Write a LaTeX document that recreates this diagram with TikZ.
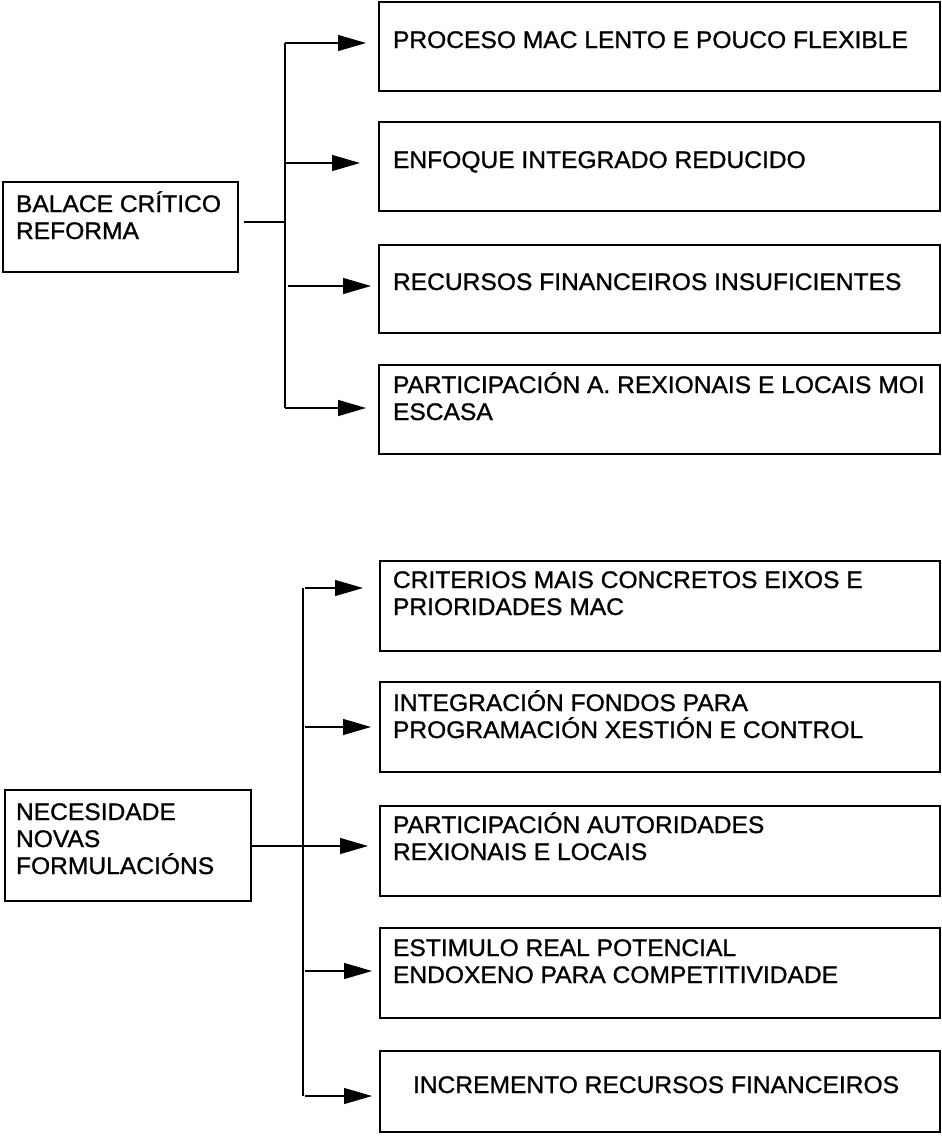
\documentclass[tikz,border=0pt]{standalone}
\usepackage{fontspec}
\setmainfont[FakeStretch=1.025,FakeBold=1]{Liberation Sans}
\usetikzlibrary{arrows.meta}
\newcommand\lstrut{\rule{0pt}{22pt}}
\begin{document}
\begin{tikzpicture}[x=1pt,y=-1pt,
  boxframe/.style={draw, line width=1.5pt, inner sep=0pt, outer sep=0pt, anchor=north west},
  lbl/.style={anchor=north west, inner sep=0pt, outer sep=0pt, align=left, font=\fontsize{24}{27}\selectfont},
  conn/.style={line width=1.2pt},
  arr/.style={conn, -{Triangle[length=28pt,width=16pt]}}]
\useasboundingbox[fill=white] (0,0) rectangle (942,1141);

% ---------- upper group ----------
\node[boxframe, minimum width=235pt, minimum height=90pt] (b0) at (3,182) {};
\node[lbl] (b0t) at (16,190) {\lstrut BALACE CRÍTICO\\REFORMA};

\node[boxframe, minimum width=561pt, minimum height=89pt] (t1) at (379,2) {};
\node[lbl] (t1t) at (393,26) {\lstrut PROCESO MAC LENTO E POUCO FLEXIBLE};
\node[boxframe, minimum width=561pt, minimum height=89pt] (t2) at (379,122) {};
\node[lbl] (t2t) at (393,146) {\lstrut ENFOQUE INTEGRADO REDUCIDO};
\node[boxframe, minimum width=561pt, minimum height=88pt] (t3) at (379,245) {};
\node[lbl] (t3t) at (393,268) {\lstrut RECURSOS FINANCEIROS INSUFICIENTES};
\node[boxframe, minimum width=561pt, minimum height=89pt] (t4) at (379,365) {};
\node[lbl] (t4t) at (393,371) {\lstrut PARTICIPACIÓN A. REXIONAIS E LOCAIS MOI\\ESCASA};

\coordinate (j0) at (285,222);
\coordinate (j1) at (285,43);
\coordinate (j2) at (285,163);
\coordinate (j3) at (285,286);
\coordinate (j4) at (285,408);

\draw[conn, shorten <=6pt] (b0.east |- j0) -- (j0);
\draw[conn] (j1) -- (j4);
\draw[arr, shorten >=13pt] (j1) -- (j1 -| t1.west);
\draw[arr, shorten >=19pt] (j2) -- (j2 -| t2.west);
\draw[arr, shorten <=3pt, shorten >=8pt] (j3) -- (j3 -| t3.west);
\draw[arr, shorten >=13pt] (j4) -- (j4 -| t4.west);

% ---------- lower group ----------
\node[boxframe, minimum width=246pt, minimum height=111pt] (c0) at (5,790) {};
\node[lbl] (c0t) at (16,798) {\lstrut NECESIDADE\\NOVAS\\FORMULACIÓNS};

\node[boxframe, minimum width=560pt, minimum height=90pt] (c1) at (380,561) {};
\node[lbl] (c1t) at (393,566) {\lstrut CRITERIOS MAIS CONCRETOS EIXOS E\\PRIORIDADES MAC};
\node[boxframe, minimum width=560pt, minimum height=90pt] (c2) at (380,682) {};
\node[lbl] (c2t) at (393,689) {\lstrut INTEGRACIÓN FONDOS PARA\\PROGRAMACIÓN XESTIÓN E CONTROL};
\node[boxframe, minimum width=560pt, minimum height=90pt] (c3) at (380,806) {};
\node[lbl] (c3t) at (393,811) {\lstrut PARTICIPACIÓN AUTORIDADES\\REXIONAIS E LOCAIS};
\node[boxframe, minimum width=560pt, minimum height=90pt] (c4) at (380,928) {};
\node[lbl] (c4t) at (393,934) {\lstrut ESTIMULO REAL POTENCIAL\\ENDOXENO PARA COMPETITIVIDADE};
\node[boxframe, minimum width=560pt, minimum height=81pt] (c5) at (380,1051) {};
\node[lbl] (c5t) at (413,1071) {\lstrut INCREMENTO RECURSOS FINANCEIROS};

\coordinate (k1) at (303,588);
\coordinate (k2) at (303,727);
\coordinate (k3) at (303,846);
\coordinate (k4) at (303,971);
\coordinate (k5) at (303,1096);

\draw[conn] (k1) -- (k5);
\draw[arr, shorten >=12pt] (c0.east |- k3) -- (k3 -| c3.west);
\draw[arr, shorten <=2pt, shorten >=17pt] (k1) -- (k1 -| c1.west);
\draw[arr, shorten <=2pt, shorten >=9pt] (k2) -- (k2 -| c2.west);
\draw[arr, shorten <=2pt, shorten >=8pt] (k4) -- (k4 -| c4.west);
\draw[arr, shorten <=2pt, shorten >=8pt] (k5) -- (k5 -| c5.west);
\end{tikzpicture}
\end{document}
